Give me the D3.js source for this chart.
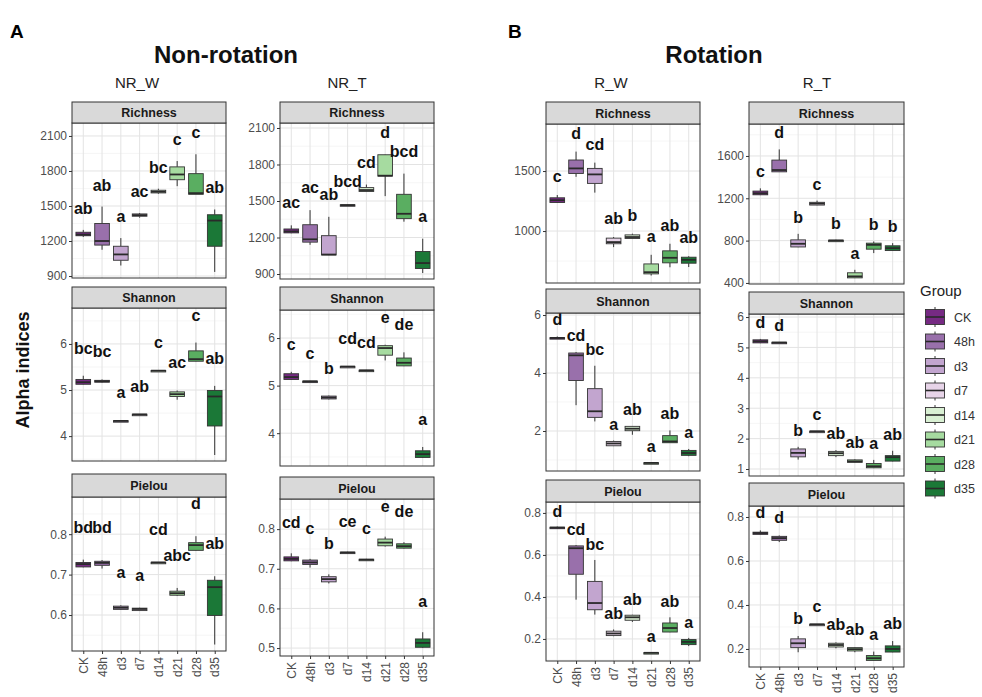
<html>
<head>
<meta charset="utf-8">
<style>
  body { margin: 0; background: #fff; }
  text { font-family: "Liberation Sans", Arial, sans-serif; }
</style>
</head>
<body>
<script src="https://d3js.org/d3.v7.min.js"></script>
<script>
// groups and colours (PRGn)
const groups = ['CK', '48h', 'd3', 'd7', 'd14', 'd21', 'd28', 'd35']
const groupColors = ['#762a83', '#9970ab', '#c2a5cf', '#e7d4e8', '#d9f0d3', '#a6dba0', '#5aae61', '#1b7837']
const indices = ['Richness', 'Shannon', 'Pielou']

// box stats: [lower whisker, q1, median, q3, upper whisker]
const nrwRichness = [[1235,1245,1255,1275,1295],[1125,1165,1200,1350,1495],[990,1035,1085,1155,1225],[1400,1412,1422,1432,1440],
  [1605,1612,1622,1635,1648],[1670,1725,1770,1835,1885],[1600,1600,1610,1777,1943],[935,1155,1375,1425,1470]]
const nrwShannon = [[5.12,5.125,5.17,5.23,5.31],[5.16,5.17,5.19,5.21,5.23],[4.32,4.325,4.33,4.335,4.34],[4.46,4.465,4.47,4.475,4.48],
  [5.41,5.415,5.42,5.425,5.43],[4.79,4.86,4.91,4.96,4.99],[5.62,5.625,5.67,5.85,6.03],[3.59,4.22,4.86,4.99,5.09]]
const nrwPielou = [[0.718,0.719,0.726,0.730,0.737],[0.715,0.723,0.729,0.733,0.736],[0.613,0.614,0.618,0.622,0.624],[0.610,0.611,0.615,0.617,0.618],
  [0.729,0.7295,0.730,0.7305,0.731],[0.647,0.649,0.654,0.659,0.667],[0.759,0.760,0.773,0.779,0.795],[0.527,0.599,0.669,0.686,0.696]]

const nrtRichness = [[1235,1238,1250,1270,1300],[1140,1162,1185,1305,1425],[1055,1057,1060,1215,1370],[1460,1463,1466,1469,1472],
  [1575,1578,1590,1610,1635],[1540,1705,1708,1880,1882],[1330,1355,1395,1555,1725],[908,945,990,1085,1190]]
const nrtShannon = [[5.12,5.13,5.18,5.25,5.29],[5.08,5.085,5.09,5.095,5.10],[4.71,4.72,4.75,4.78,4.79],[5.39,5.395,5.40,5.405,5.41],
  [5.31,5.315,5.32,5.325,5.33],[5.53,5.64,5.79,5.84,5.86],[5.41,5.415,5.48,5.58,5.70],[3.48,3.49,3.56,3.63,3.71]]
const nrtPielou = [[0.719,0.720,0.725,0.730,0.739],[0.703,0.711,0.716,0.722,0.725],[0.663,0.667,0.674,0.680,0.686],[0.739,0.740,0.741,0.742,0.743],
  [0.721,0.722,0.723,0.724,0.725],[0.756,0.758,0.766,0.775,0.781],[0.751,0.752,0.757,0.763,0.767],[0.500,0.502,0.513,0.523,0.540]]

const rwRichness = [[1235,1238,1257,1277,1300],[1452,1480,1522,1592,1662],[1320,1397,1472,1522,1570],[866,894,908,941,950],
  [936,938,950,968,978],[629,643,657,726,802],[698,735,777,835,894],[700,732,760,782,790]]
const rwShannon = [[5.18,5.19,5.21,5.22,5.26],[2.89,3.74,4.61,4.69,4.72],[2.33,2.47,2.68,3.46,4.25],[1.48,1.49,1.57,1.64,1.67],
  [1.87,2.01,2.08,2.16,2.17],[0.89,0.895,0.90,0.905,0.91],[1.59,1.595,1.64,1.84,2.02],[1.13,1.16,1.24,1.33,1.38]]
const rwPielou = [[0.725,0.728,0.730,0.732,0.735],[0.387,0.508,0.632,0.643,0.647],[0.316,0.339,0.371,0.474,0.576],[0.213,0.216,0.226,0.237,0.245],
  [0.281,0.289,0.303,0.313,0.315],[0.132,0.133,0.134,0.135,0.136],[0.232,0.233,0.252,0.276,0.303],[0.166,0.173,0.186,0.197,0.205]]

const rtRichness = [[1230,1233,1247,1268,1294],[1448,1450,1467,1561,1662],[738,740,770,807,864],[1134,1136,1150,1162,1178],
  [795,798,801,804,808],[446,448,462,496,524],[682,719,760,776,792],[704,706,729,751,776]]
const rtShannon = [[5.14,5.15,5.20,5.25,5.28],[5.14,5.15,5.16,5.17,5.18],[1.31,1.40,1.53,1.66,1.73],[2.23,2.235,2.24,2.245,2.25],
  [1.39,1.44,1.52,1.58,1.62],[1.21,1.22,1.25,1.30,1.32],[1.03,1.04,1.09,1.18,1.30],[1.25,1.26,1.39,1.44,1.60]]
const rtPielou = [[0.719,0.721,0.727,0.731,0.739],[0.686,0.694,0.704,0.712,0.716],[0.185,0.206,0.226,0.246,0.259],[0.311,0.3115,0.312,0.3125,0.313],
  [0.203,0.209,0.218,0.226,0.230],[0.185,0.191,0.199,0.206,0.208],[0.147,0.148,0.158,0.170,0.188],[0.185,0.186,0.200,0.214,0.236]]

// significance letters
const nrwLetters = [['ab','ab','a','ac','bc','c','c','ab'], ['bc','bc','a','ab','c','ac','c','ab'], ['bd','bd','a','a','cd','abc','d','ab']]
const nrtLetters = [['ac','ac','ab','bcd','cd','d','bcd','a'], ['c','c','b','cd','cd','e','de','a'], ['cd','c','b','ce','c','e','de','a']]
const rwLetters = [['c','d','cd','ab','b','a','ab','ab'], ['d','cd','bc','a','ab','a','ab','a'], ['d','cd','bc','ab','ab','a','ab','a']]
const rtLetters = [['c','d','b','c','b','a','b','b'], ['d','d','b','c','ab','ab','a','ab'], ['d','d','b','c','ab','ab','a','ab']]

// y ticks per panel
const nrwTicks = [[900,1200,1500,1800,2100], [4,5,6], [0.6,0.7,0.8]]
const nrtTicks = [[900,1200,1500,1800,2100], [4,5,6], [0.5,0.6,0.7,0.8]]
const rwTicks = [[1000,1500], [2,4,6], [0.2,0.4,0.6,0.8]]
const rtTicks = [[400,800,1200,1600], [1,2,3,4,5,6], [0.2,0.4,0.6,0.8]]

// layout of the four columns
const columns = [
  { name: 'NR_W', tx: 137, x0: 72, x1: 226, data: [nrwRichness, nrwShannon, nrwPielou], letters: nrwLetters, ticks: nrwTicks,
    domains: [[883,2211],[3.46,6.78],[0.511,0.892]], rows: [[102,123,278],[287,308,461],[474,497,651]], gap: [16,22,27] },
  { name: 'NR_T', tx: 347, x0: 280, x1: 434, data: [nrtRichness, nrtShannon, nrtPielou], letters: nrtLetters, ticks: nrtTicks,
    domains: [[859,2141],[3.31,6.59],[0.48,0.876]], rows: [[102,123,279],[287,310,466],[477,499,656]], gap: [17,22,25] },
  { name: 'R_W', tx: 611, x0: 546, x1: 700, data: [rwRichness, rwShannon, rwPielou], letters: rwLetters, ticks: rwTicks,
    domains: [[567,1892],[0.62,6.07],[0.095,0.852]], rows: [[102,124,283],[289,313,471],[480,502,661]], gap: [13,11,10] },
  { name: 'R_T', tx: 817, x0: 749, x1: 904, data: [rtRichness, rtShannon, rtPielou], letters: rtLetters, ticks: rtTicks,
    domains: [[390,1902],[0.77,6.1],[0.118,0.85]], rows: [[102,124,284],[292,314,476],[483,506,667]], gap: [11,11,12] }
]

const svg = d3.select('body').append('svg').attr('width', 982).attr('height', 697)
svg.append('rect').attr('width', 982).attr('height', 697).attr('fill', '#fff')

const color = d3.scaleOrdinal().domain(groups).range(groupColors)

// headings
svg.append('text').attr('x', 10).attr('y', 38).text('A').attr('font-size', 19).attr('font-weight', 'bold')
svg.append('text').attr('x', 508).attr('y', 38).text('B').attr('font-size', 19).attr('font-weight', 'bold')
svg.append('text').attr('x', 226).attr('y', 63).text('Non-rotation').attr('text-anchor', 'middle')
  .attr('font-size', 24).attr('font-weight', 'bold').attr('fill', '#111')
svg.append('text').attr('x', 714).attr('y', 63).text('Rotation').attr('text-anchor', 'middle')
  .attr('font-size', 24).attr('font-weight', 'bold').attr('fill', '#111')
svg.append('text').attr('transform', 'translate(29,370) rotate(-90)').text('Alpha indices').attr('text-anchor', 'middle')
  .attr('font-size', 18).attr('font-weight', 'bold').attr('fill', '#111')

columns.forEach(col => {
  svg.append('text').attr('x', col.tx).attr('y', 88).text(col.name).attr('text-anchor', 'middle')
    .attr('font-size', 15).attr('fill', '#222')

  const x = d3.scalePoint().domain(groups).range([col.x0, col.x1]).padding(0.6)
  const step = x.step()
  const bw = step * 0.78

  col.rows.forEach((r, i) => {
    const [stripTop, top, bottom] = r
    const y = d3.scaleLinear().domain(col.domains[i]).range([bottom, top])
    const ticks = col.ticks[i]
    const g = svg.append('g')

    g.append('rect').attr('x', col.x0).attr('y', top).attr('width', col.x1 - col.x0).attr('height', bottom - top).attr('fill', '#fff')

    // minor grid
    const tstep = ticks.length > 1 ? ticks[1] - ticks[0] : 1
    const minors = d3.range(-2, ticks.length + 2).map(k => ticks[0] + (k + 0.5) * tstep)
      .filter(v => v > col.domains[i][0] && v < col.domains[i][1])
    g.selectAll('.minor').data(minors).enter().append('line')
      .attr('x1', col.x0).attr('x2', col.x1).attr('y1', d => y(d)).attr('y2', d => y(d))
      .attr('stroke', '#f0f0f0').attr('stroke-width', 0.6)
    g.selectAll('.major').data(ticks).enter().append('line')
      .attr('x1', col.x0).attr('x2', col.x1).attr('y1', d => y(d)).attr('y2', d => y(d))
      .attr('stroke', '#e3e3e3').attr('stroke-width', 1)
    g.selectAll('.vgrid').data(groups).enter().append('line')
      .attr('x1', d => x(d)).attr('x2', d => x(d)).attr('y1', top).attr('y2', bottom)
      .attr('stroke', '#e3e3e3').attr('stroke-width', 1)

    // boxes
    const boxes = g.selectAll('.box').data(col.data[i]).enter().append('g')
    boxes.append('line')
      .attr('x1', (d, j) => x(groups[j])).attr('x2', (d, j) => x(groups[j]))
      .attr('y1', d => y(d[4])).attr('y2', d => y(d[3]))
      .attr('stroke', '#333').attr('stroke-width', 1)
    boxes.append('line')
      .attr('x1', (d, j) => x(groups[j])).attr('x2', (d, j) => x(groups[j]))
      .attr('y1', d => y(d[1])).attr('y2', d => y(d[0]))
      .attr('stroke', '#333').attr('stroke-width', 1)
    boxes.append('rect')
      .attr('x', (d, j) => x(groups[j]) - bw / 2).attr('width', bw)
      .attr('y', d => y(d[3])).attr('height', d => Math.max(y(d[1]) - y(d[3]), 1.5))
      .attr('fill', (d, j) => color(groups[j])).attr('stroke', '#333').attr('stroke-width', 0.9)
    boxes.append('line')
      .attr('x1', (d, j) => x(groups[j]) - bw / 2).attr('x2', (d, j) => x(groups[j]) + bw / 2)
      .attr('y1', d => y(d[2])).attr('y2', d => y(d[2]))
      .attr('stroke', '#2a2a2a').attr('stroke-width', 1.8)

    // letters
    g.selectAll('.sig').data(col.data[i]).enter().append('text')
      .attr('x', (d, j) => x(groups[j])).attr('y', d => y(d[4]) - col.gap[i])
      .text((d, j) => col.letters[i][j]).attr('text-anchor', 'middle')
      .attr('font-size', 16).attr('font-weight', 'bold').attr('fill', '#111')

    // panel border
    g.append('rect').attr('x', col.x0).attr('y', top).attr('width', col.x1 - col.x0).attr('height', bottom - top)
      .attr('fill', 'none').attr('stroke', '#333').attr('stroke-width', 1)

    // strip
    g.append('rect').attr('x', col.x0).attr('y', stripTop).attr('width', col.x1 - col.x0).attr('height', top - stripTop)
      .attr('fill', '#d9d9d9').attr('stroke', '#333').attr('stroke-width', 1)
    g.append('text').attr('x', (col.x0 + col.x1) / 2).attr('y', (stripTop + top) / 2 + 4.5)
      .text(indices[i]).attr('text-anchor', 'middle').attr('font-size', 12.5).attr('font-weight', 'bold').attr('fill', '#1a1a1a')

    // y axis
    const yAxis = g.append('g').attr('transform', `translate(${col.x0},0)`)
      .call(d3.axisLeft(y).tickValues(ticks).tickSize(3).tickPadding(2).tickFormat(d => String(d)))
    yAxis.select('.domain').remove()
    yAxis.selectAll('line').attr('stroke', '#333')
    yAxis.selectAll('text').attr('font-size', 12).attr('fill', '#4d4d4d').attr('font-family', '"Liberation Sans", Arial, sans-serif')

    // x axis on bottom row
    if (i === 2) {
      const xAxis = g.append('g').attr('transform', `translate(0,${bottom})`)
        .call(d3.axisBottom(x).tickSize(3).tickPadding(2))
      xAxis.select('.domain').remove()
      xAxis.selectAll('line').attr('stroke', '#333')
      xAxis.selectAll('text').attr('font-size', 12).attr('fill', '#4d4d4d')
        .attr('font-family', '"Liberation Sans", Arial, sans-serif')
        .attr('transform', 'rotate(-90)').attr('text-anchor', 'end')
        .attr('x', -6).attr('y', 0).attr('dy', '0.35em')
    }
  })
})

// legend
const legend = svg.append('g')
legend.append('text').attr('x', 920).attr('y', 296).text('Group').attr('font-size', 15).attr('fill', '#222')
const keys = legend.selectAll('.key').data(groups).enter().append('g')
  .attr('transform', (d, i) => `translate(935,${317 + i * 24.5})`)
keys.append('line').attr('y1', -10).attr('y2', 10).attr('stroke', '#333')
keys.append('rect').attr('x', -9.5).attr('y', -7.5).attr('width', 19).attr('height', 15)
  .attr('fill', d => color(d)).attr('stroke', '#333').attr('stroke-width', 0.9)
keys.append('line').attr('x1', -9.5).attr('x2', 9.5).attr('stroke', '#2a2a2a').attr('stroke-width', 1.6)
keys.append('text').attr('x', 19).attr('y', 4.5).text(d => d).attr('font-size', 12.5).attr('fill', '#333')
</script>
</body>
</html>
